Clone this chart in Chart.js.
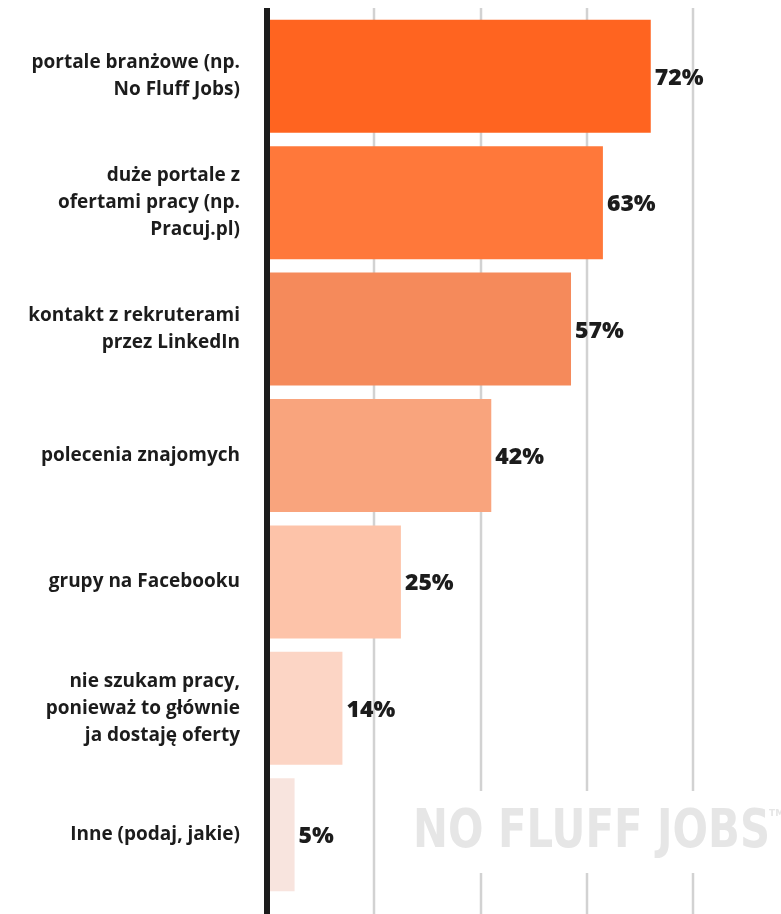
<!DOCTYPE html>
<html lang="pl">
<head>
<meta charset="utf-8">
<script src="https://cdn.jsdelivr.net/npm/chart.js@4.4.1/dist/chart.umd.min.js"></script>
<style>
    html, body { margin: 0; padding: 0; background: #fff; }
    #wrap { width: 781px; height: 914px; position: relative; }
</style>
</head>
<body>
<div id="wrap"><canvas id="chart"></canvas></div>
<script>
// Skąd kandydaci biorą oferty pracy
const categories = [
    ["portale branżowe (np.", "No Fluff Jobs)"],
    ["duże portale z", "ofertami pracy (np.", "Pracuj.pl)"],
    ["kontakt z rekruterami", "przez LinkedIn"],
    ["polecenia znajomych"],
    ["grupy na Facebooku"],
    ["nie szukam pracy,", "ponieważ to głównie", "ja dostaję oferty"],
    ["Inne (podaj, jakie)"]
];
const values = [72, 63, 57, 42, 25, 14, 5];
const barColors = ["#FF6420", "#FF783A", "#F58A5B", "#F9A47D", "#FDC3A9", "#FCD5C5", "#F8E4DE"];
const gridTicks = [20, 40, 60, 80];

const INK = "#1c1c1c";

// siatka + logo pod słupkami
const backdrop = {
    id: "backdrop",
    beforeDatasetsDraw(chart) {
        const ctx = chart.ctx;
        const x = chart.scales.x;
        ctx.save();
        ctx.strokeStyle = "#d2d2d2";
        ctx.lineWidth = 2.5;
        gridTicks.forEach(t => {
            const px = Math.round(x.getPixelForValue(t));
            ctx.beginPath();
            ctx.moveTo(px, 8);
            ctx.lineTo(px, chart.height);
            ctx.stroke();
        });

        // logo na białym tle
        ctx.fillStyle = "#fff";
        ctx.fillRect(405, 791, 376, 82);
        ctx.fillStyle = "#e6e6e6";
        ctx.font = "bold 53px 'DejaVu Sans'";
        ctx.textBaseline = "alphabetic";
        ctx.textAlign = "left";
        const txt = "NO FLUFF JOBS";
        const w = ctx.measureText(txt).width;
        ctx.translate(413, 847);
        ctx.scale(357 / w, 1);
        ctx.fillText(txt, 0, 0);
        ctx.restore();
        ctx.save();
        ctx.fillStyle = "#e6e6e6";
        ctx.font = "bold 9px 'DejaVu Sans'";
        ctx.fillText("TM", 769, 816);
        ctx.restore();
    },
    afterDatasetsDraw(chart) {
        const ctx = chart.ctx;
        const x = chart.scales.x;
        ctx.save();
        // oś pionowa
        ctx.fillStyle = INK;
        const zero = x.getPixelForValue(0);
        ctx.fillRect(zero - 4, 8, 6, chart.height - 8);

        // etykiety wartości
        ctx.font = "800 23px 'Open Sans'";
        ctx.textBaseline = "middle";
        ctx.textAlign = "left";
        chart.getDatasetMeta(0).data.forEach((bar, i) => {
            ctx.fillText(values[i] + "%", bar.x + 4, bar.y + 2);
        });
        ctx.restore();
    }
};

new Chart(document.getElementById("chart"), {
    type: "bar",
    data: {
        labels: categories,
        datasets: [{
            data: values,
            backgroundColor: barColors,
            borderWidth: 0,
            barPercentage: 0.894,
            categoryPercentage: 1
        }]
    },
    options: {
        indexAxis: "y",
        responsive: true,
        maintainAspectRatio: false,
        animation: false,
        layout: { padding: { top: 13, bottom: 16, left: 0, right: 0 } },
        plugins: {
            legend: { display: false },
            tooltip: { enabled: false }
        },
        scales: {
            x: {
                display: false,
                min: 0,
                max: 96.5
            },
            y: {
                afterFit(scale) {
                    scale.width = 268;
                    scale.paddingTop = 0;
                    scale.paddingBottom = 0;
                },
                grid: { display: false },
                border: { display: false },
                ticks: {
                    color: INK,
                    padding: 20,
                    font: { family: "'Open Sans'", size: 19, weight: "bold", lineHeight: "27px" }
                }
            }
        }
    },
    plugins: [backdrop]
});
</script>
</body>
</html>
